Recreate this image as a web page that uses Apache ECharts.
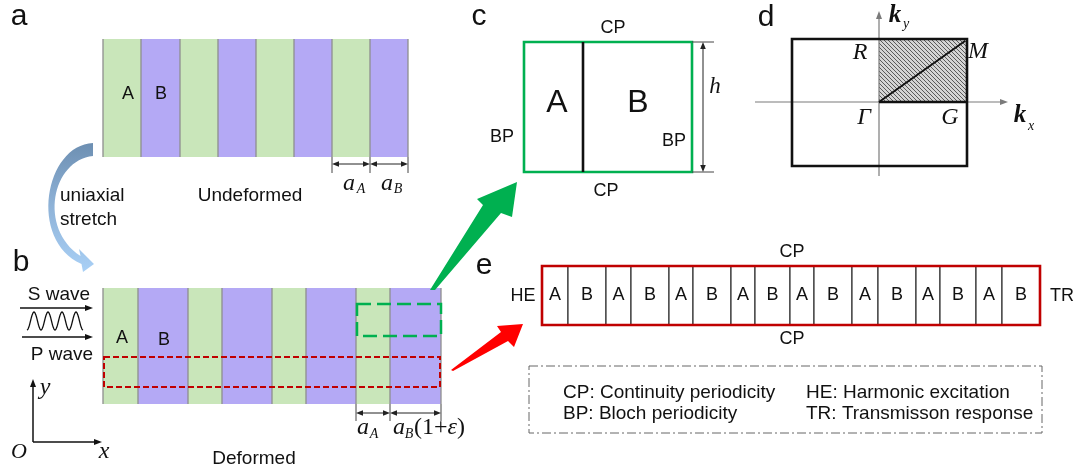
<!DOCTYPE html>
<html>
<head>
<meta charset="utf-8">
<script src="https://cdn.jsdelivr.net/npm/echarts@6/dist/echarts.min.js"></script>
<style>
  html, body { margin: 0; padding: 0; background: #ffffff; }
  #main { width: 1082px; height: 472px; }
</style>
</head>
<body>
<div id="main"></div>
<script>
// ---- Layer data (widths in drawing units) ----
const layerMaterials = ['A', 'B', 'A', 'B', 'A', 'B', 'A', 'B'];
const undeformedWidths = [38, 39, 38, 38, 38, 38, 38, 38];
const deformedWidths = [35, 50, 34, 50, 34, 50, 34, 51];
const supercellMaterials = ['A', 'B', 'A', 'B', 'A', 'B', 'A', 'B', 'A', 'B', 'A', 'B', 'A', 'B', 'A', 'B'];
const supercellWidths = [26, 38, 25, 38, 24, 38, 24, 35, 24, 38, 26, 38, 24, 36, 26, 38];
const legendLeft = ['CP: Continuity periodicity', 'BP: Bloch periodicity'];
const legendRight = ['HE: Harmonic excitation', 'TR: Transmisson response'];

// ---- Layout ----
const STACK_A = { x: 103, top: 39, bottom: 157 };
const STACK_B = { x: 103, top: 288, bottom: 404 };
const SUPERCELL = { x: 542, top: 266, bottom: 325 };

const SANS = '"Liberation Sans", Arial, Helvetica, sans-serif';
const SERIF = '"Liberation Serif", "Times New Roman", serif';
const COLOR = {
  A: '#c9e6ba', B: '#b4a9f5', seam: '#8e8e8e',
  green: '#00b050', red: '#c00000', brightRed: '#ff0000', ink: '#111111'
};

function layerRows(widths, mats, x0, y0, y1) {
  let x = x0;
  return widths.map((w, i) => {
    const row = [x, x + w, y0, y1, mats[i]];
    x += w;
    return row;
  });
}
const undeformedRows = layerRows(undeformedWidths, layerMaterials, STACK_A.x, STACK_A.top, STACK_A.bottom);
const deformedRows = layerRows(deformedWidths, layerMaterials, STACK_B.x, STACK_B.top, STACK_B.bottom);
const supercellRows = layerRows(supercellWidths, supercellMaterials, SUPERCELL.x, SUPERCELL.top, SUPERCELL.bottom);

// ---- Drawing helpers ----
function txt(P, x, y, s, o) {
  o = o || {};
  const p = P(x, y);
  const style = {
    text: s, fill: o.fill || COLOR.ink, fontSize: o.size || 19,
    fontFamily: o.family || SANS, fontStyle: o.style || 'normal',
    fontWeight: o.weight || 'normal', align: o.align || 'center', verticalAlign: 'middle'
  };
  if (o.rich) style.rich = o.rich;
  return { type: 'text', x: p[0], y: p[1], style: style };
}
function poly(P, pts, stroke, lw, dash) {
  return {
    type: 'polyline', shape: { points: pts.map(q => P(q[0], q[1])) },
    style: { stroke: stroke, lineWidth: lw, fill: null, lineDash: dash || null }
  };
}
function box(P, x0, y0, x1, y1, stroke, lw, dash) {
  const a = P(x0, y0), b = P(x1, y1);
  return {
    type: 'rect', shape: { x: a[0], y: a[1], width: b[0] - a[0], height: b[1] - a[1] },
    style: { stroke: stroke, lineWidth: lw, fill: null, lineDash: dash || null }
  };
}
function fillPoly(P, pts, fill) {
  return { type: 'polygon', shape: { points: pts.map(q => P(q[0], q[1])) }, style: { fill: fill } };
}
function head(P, tip, from, len, hw, fill) {
  const dx = tip[0] - from[0], dy = tip[1] - from[1];
  const L = Math.hypot(dx, dy), ux = dx / L, uy = dy / L;
  const bx = tip[0] - ux * len, by = tip[1] - uy * len;
  return fillPoly(P, [tip, [bx - uy * hw, by + ux * hw], [bx + uy * hw, by - ux * hw]], fill);
}
function arrowLine(P, from, to, color, lw, len, hw) {
  const dx = to[0] - from[0], dy = to[1] - from[1];
  const L = Math.hypot(dx, dy);
  const end = [to[0] - dx / L * (len - 1), to[1] - dy / L * (len - 1)];
  return [poly(P, [from, end], color, lw), head(P, to, from, len, hw, color)];
}
function dimension(P, xa, xb, y, color) {
  const out = [poly(P, [[xa + 3, y], [xb - 3, y]], color, 1)];
  out.push(head(P, [xa, y], [xb, y], 7, 2.8, color));
  out.push(head(P, [xb, y], [xa, y], 7, 2.8, color));
  return out;
}
function subLabel(P, x, y, main, sub, o) {
  o = o || {};
  return [
    txt(P, x, y, main, { family: SERIF, style: 'italic', weight: o.weight || 'normal', size: o.size || 24 }),
    txt(P, x + (o.dx || 11), y + (o.dy || 6), sub, { family: SERIF, style: 'italic', size: o.subSize || 14 })
  ];
}
function hatch() {
  const c = document.createElement('canvas');
  c.width = 4; c.height = 4;
  const g = c.getContext('2d');
  g.fillStyle = '#d4d4d4';
  g.fillRect(0, 0, 4, 4);
  g.strokeStyle = '#5a5a5a';
  g.lineWidth = 1;
  g.beginPath();
  g.moveTo(0, 0); g.lineTo(4, 4);
  g.moveTo(-2, 2); g.lineTo(2, 6);
  g.moveTo(2, -2); g.lineTo(6, 2);
  g.stroke();
  return { image: c, repeat: 'repeat' };
}
const hatchFill = hatch();

function stripeSeries(rows) {
  return {
    type: 'custom', coordinateSystem: 'cartesian2d', clip: false, silent: true,
    data: rows.map(r => [r[0], r[1], r[2], r[3]]),
    renderItem: function (params, api) {
      const p0 = api.coord([api.value(0), api.value(2)]);
      const p1 = api.coord([api.value(1), api.value(3)]);
      const mat = rows[params.dataIndex][4];
      const children = [{
        type: 'rect', shape: { x: p0[0], y: p0[1], width: p1[0] - p0[0], height: p1[1] - p0[1] },
        style: { fill: COLOR[mat] }
      }, {
        type: 'line', shape: { x1: p0[0], y1: p0[1], x2: p0[0], y2: p1[1] },
        style: { stroke: COLOR.seam, lineWidth: 1.3 }
      }];
      if (params.dataIndex === rows.length - 1) {
        children.push({
          type: 'line', shape: { x1: p1[0], y1: p0[1], x2: p1[0], y2: p1[1] },
          style: { stroke: COLOR.seam, lineWidth: 1.3 }
        });
      }
      return { type: 'group', children: children };
    }
  };
}

const cellSeries = {
  type: 'custom', coordinateSystem: 'cartesian2d', clip: false, silent: true,
  data: supercellRows.map(r => [r[0], r[1], r[2], r[3]]),
  renderItem: function (params, api) {
    const p0 = api.coord([api.value(0), api.value(2)]);
    const p1 = api.coord([api.value(1), api.value(3)]);
    const mat = supercellRows[params.dataIndex][4];
    return {
      type: 'group', children: [{
        type: 'rect', shape: { x: p0[0], y: p0[1], width: p1[0] - p0[0], height: p1[1] - p0[1] },
        style: { fill: '#ffffff', stroke: '#333333', lineWidth: 1.2 }
      }, {
        type: 'text', x: (p0[0] + p1[0]) / 2, y: (p0[1] + p1[1]) / 2,
        style: { text: mat, fontSize: 18, fontFamily: SANS, fill: COLOR.ink, align: 'center', verticalAlign: 'middle' }
      }]
    };
  }
};

const decorSeries = {
  type: 'custom', coordinateSystem: 'cartesian2d', clip: false, silent: true,
  data: [[0, 0]],
  renderItem: function (params, api) {
    const P = (x, y) => api.coord([x, y]);
    const ch = [];
    const dimGray = '#444444';

    // panel letters
    ch.push(txt(P, 19, 17, 'a', { size: 30 }));
    ch.push(txt(P, 21, 263, 'b', { size: 30 }));
    ch.push(txt(P, 479, 17, 'c', { size: 30 }));
    ch.push(txt(P, 766, 18, 'd', { size: 30 }));
    ch.push(txt(P, 484, 266, 'e', { size: 30 }));

    // ---- panel a ----
    ch.push(txt(P, 128, 94, 'A', { size: 18 }));
    ch.push(txt(P, 161, 94, 'B', { size: 18 }));
    const ua = undeformedRows;
    const aTicks = [ua[6][0], ua[7][0], ua[7][1]];
    aTicks.forEach(x => ch.push(poly(P, [[x, STACK_A.bottom], [x, 173]], dimGray, 1)));
    dimension(P, aTicks[0], aTicks[1], 164, '#222').forEach(e => ch.push(e));
    dimension(P, aTicks[1], aTicks[2], 164, '#222').forEach(e => ch.push(e));
    subLabel(P, 349, 184, 'a', 'A', { dx: 12, dy: 5 }).forEach(e => ch.push(e));
    subLabel(P, 387, 184, 'a', 'B', { dx: 11, dy: 5 }).forEach(e => ch.push(e));
    ch.push(txt(P, 250, 196, 'Undeformed', { size: 19 }));
    ch.push(txt(P, 60, 196, 'uniaxial', { size: 19, align: 'left' }));
    ch.push(txt(P, 60, 220, 'stretch', { size: 19, align: 'left' }));

    // curved stretch arrow
    const m = (x, y) => { const p = P(x, y); return p[0] + ' ' + p[1]; };
    const bend = 'M ' + m(93, 143) +
      ' C ' + m(45, 145) + ' ' + m(28, 240) + ' ' + m(81.5, 264) +
      ' L ' + m(83, 272) + ' L ' + m(94, 264) + ' L ' + m(79, 249) + ' L ' + m(80.5, 256) +
      ' C ' + m(38, 228) + ' ' + m(52, 160) + ' ' + m(93, 156) + ' Z';
    ch.push({
      type: 'path', shape: { pathData: bend },
      style: {
        fill: {
          type: 'linear', x: 0, y: 0, x2: 0, y2: 1,
          colorStops: [{ offset: 0, color: '#6d8fb2' }, { offset: 0.5, color: '#8fb3d8' }, { offset: 1, color: '#a9d0f6' }]
        }
      }
    });

    // ---- panel b ----
    ch.push(txt(P, 122, 338, 'A', { size: 18 }));
    ch.push(txt(P, 164, 340, 'B', { size: 18 }));
    const db = deformedRows;
    ch.push(box(P, db[6][0] + 1, 304, db[7][1], 336, COLOR.green, 2.5, [14, 6]));
    ch.push(box(P, STACK_B.x + 1, 357, db[7][1] - 1, 387, COLOR.red, 2, [6, 3]));
    const bTicks = [db[6][0], db[7][0], db[7][1]];
    bTicks.forEach(x => ch.push(poly(P, [[x, STACK_B.bottom], [x, 421]], dimGray, 1)));
    dimension(P, bTicks[0], bTicks[1], 413, '#222').forEach(e => ch.push(e));
    dimension(P, bTicks[1], bTicks[2], 413, '#222').forEach(e => ch.push(e));
    subLabel(P, 363, 428, 'a', 'A', { dx: 11, dy: 6 }).forEach(e => ch.push(e));
    subLabel(P, 399, 428, 'a', 'B', { dx: 10, dy: 6 }).forEach(e => ch.push(e));
    ch.push(txt(P, 414, 428, '{u|(1+}{g|ε}{u|)}', {
      align: 'left', family: SERIF, size: 24,
      rich: {
        u: { fontFamily: SERIF, fontSize: 24, fill: COLOR.ink },
        g: { fontFamily: SERIF, fontSize: 24, fontStyle: 'italic', fill: COLOR.ink }
      }
    }));
    ch.push(txt(P, 254, 459, 'Deformed', { size: 19 }));

    // incident waves
    ch.push(txt(P, 59, 295, 'S wave', { size: 19 }));
    ch.push(txt(P, 62, 355, 'P wave', { size: 19 }));
    arrowLine(P, [20, 308], [93, 308], '#111', 1.6, 8, 3).forEach(e => ch.push(e));
    arrowLine(P, [22, 337], [93, 337], '#111', 1.6, 8, 3).forEach(e => ch.push(e));
    const wave = [];
    for (let i = 0; i <= 96; i++) {
      const t = i / 96;
      wave.push([27 + 56 * t, 321 + 9 * Math.cos(2 * Math.PI * 4 * t)]);
    }
    ch.push(poly(P, wave, '#111', 1.3));

    // coordinate frame
    arrowLine(P, [33, 442], [33, 379], '#111', 1.5, 8, 3).forEach(e => ch.push(e));
    arrowLine(P, [33, 442], [102, 442], '#111', 1.5, 8, 3).forEach(e => ch.push(e));
    ch.push(txt(P, 45, 388, 'y', { family: SERIF, style: 'italic', size: 24 }));
    ch.push(txt(P, 19, 452, 'O', { family: SERIF, style: 'italic', size: 22 }));
    ch.push(txt(P, 104, 452, 'x', { family: SERIF, style: 'italic', size: 24 }));

    // pointer arrows
    ch.push(fillPoly(P, [[430, 290], [483, 205], [477, 199], [517, 182], [512, 217], [501, 213], [435, 290]], COLOR.green));
    ch.push(fillPoly(P, [[451, 370], [501, 332], [497, 326], [523, 324], [514, 347], [508, 341], [453, 371]], COLOR.brightRed));

    // ---- panel c ----
    ch.push(box(P, 524, 42, 692, 172, COLOR.green, 2.6));
    ch.push(poly(P, [[583, 42], [583, 172]], '#111', 2.6));
    ch.push(txt(P, 557, 103, 'A', { size: 32 }));
    ch.push(txt(P, 638, 103, 'B', { size: 32 }));
    ch.push(txt(P, 613, 28, 'CP', { size: 18 }));
    ch.push(txt(P, 606, 191, 'CP', { size: 18 }));
    ch.push(txt(P, 502, 137, 'BP', { size: 18 }));
    ch.push(txt(P, 674, 141, 'BP', { size: 18 }));
    ch.push(poly(P, [[692, 42], [714, 42]], dimGray, 1));
    ch.push(poly(P, [[692, 172], [714, 172]], dimGray, 1));
    ch.push(poly(P, [[703, 48], [703, 166]], '#222', 1));
    ch.push(head(P, [703, 42], [703, 60], 7, 2.8, '#222'));
    ch.push(head(P, [703, 172], [703, 150], 7, 2.8, '#222'));
    ch.push(txt(P, 715, 87, 'h', { family: SERIF, style: 'italic', size: 23 }));

    // ---- panel d ----
    const hp0 = P(879, 39), hp1 = P(967, 102);
    ch.push({
      type: 'rect', shape: { x: hp0[0], y: hp0[1], width: hp1[0] - hp0[0], height: hp1[1] - hp0[1] },
      style: { fill: hatchFill }
    });
    arrowLine(P, [755, 102], [1008, 102], '#7a7a7a', 1.2, 8, 3).forEach(e => ch.push(e));
    arrowLine(P, [879, 176], [879, 11], '#7a7a7a', 1.2, 8, 3).forEach(e => ch.push(e));
    ch.push(box(P, 792, 39, 967, 166, '#111', 2.6));
    ch.push(poly(P, [[879, 102], [967, 102]], '#111', 2.4));
    ch.push(poly(P, [[879, 102], [965, 41]], '#111', 2));
    ch.push(txt(P, 860, 53, 'R', { family: SERIF, style: 'italic', size: 24 }));
    ch.push(txt(P, 978, 52, 'M', { family: SERIF, style: 'italic', size: 24 }));
    ch.push(txt(P, 864, 118, 'Γ', { family: SERIF, style: 'italic', size: 24 }));
    ch.push(txt(P, 950, 118, 'G', { family: SERIF, style: 'italic', size: 24 }));
    subLabel(P, 1020, 116, 'k', 'x', { weight: 'bold', size: 25, dx: 11, dy: 10 }).forEach(e => ch.push(e));
    subLabel(P, 895, 16, 'k', 'y', { weight: 'bold', size: 25, dx: 11, dy: 8 }).forEach(e => ch.push(e));

    // ---- panel e ----
    ch.push(box(P, SUPERCELL.x, SUPERCELL.top, supercellRows[supercellRows.length - 1][1], SUPERCELL.bottom, COLOR.red, 2.6));
    ch.push(txt(P, 792, 252, 'CP', { size: 18 }));
    ch.push(txt(P, 792, 339, 'CP', { size: 18 }));
    ch.push(txt(P, 523, 296, 'HE', { size: 18 }));
    ch.push(txt(P, 1062, 296, 'TR', { size: 18 }));

    // legend
    ch.push(box(P, 529, 366, 1042, 433, '#666666', 1, [9, 3, 2, 3]));
    legendLeft.forEach((s, i) => ch.push(txt(P, 563, 393 + i * 21, s, { size: 19, align: 'left' })));
    legendRight.forEach((s, i) => ch.push(txt(P, 806, 393 + i * 21, s, { size: 19, align: 'left' })));

    return { type: 'group', children: ch };
  }
};

const chart = echarts.init(document.getElementById('main'), null, { renderer: 'canvas' });
chart.setOption({
  animation: false,
  backgroundColor: '#ffffff',
  grid: { left: 0, right: 0, top: 0, bottom: 0 },
  xAxis: { type: 'value', min: 0, max: 1082, show: false },
  yAxis: { type: 'value', min: 0, max: 472, inverse: true, show: false },
  series: [
    stripeSeries(undeformedRows),
    stripeSeries(deformedRows),
    cellSeries,
    decorSeries
  ]
});
</script>
</body>
</html>
